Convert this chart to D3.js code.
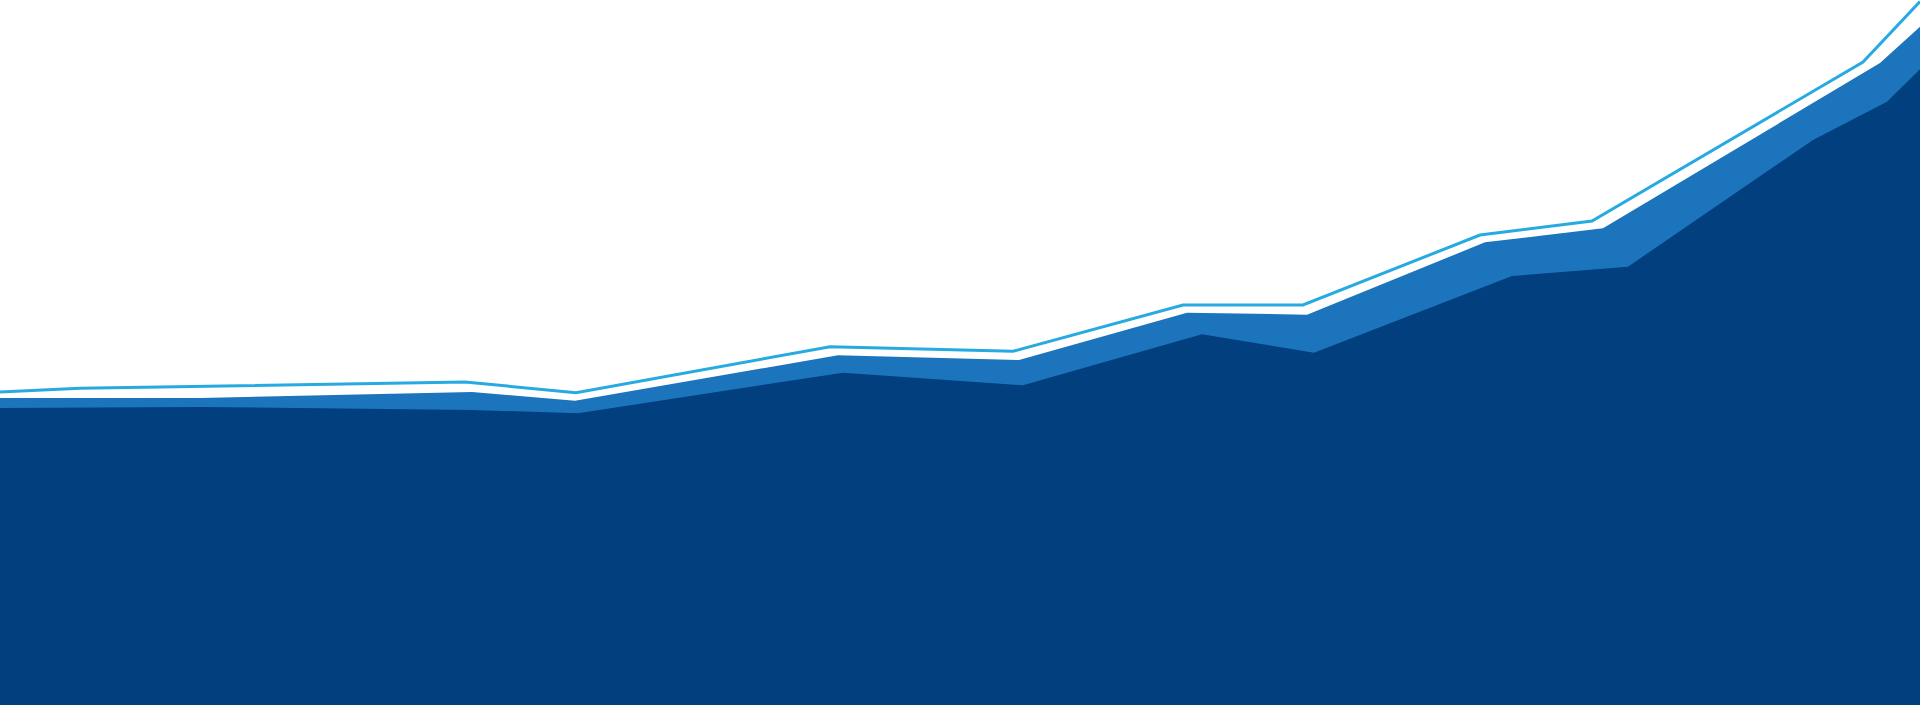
<!DOCTYPE html>
<html>
<head>
<meta charset="utf-8">
<script src="https://cdnjs.cloudflare.com/ajax/libs/d3/7.8.5/d3.min.js"></script>
<style>
	html, body { margin: 0; padding: 0; background: #fff; overflow: hidden; }
	svg { display: block; }
</style>
</head>
<body>
<script>
// positions along the strip and the height of each layer above the bottom edge
var lightX = [0, 80, 465, 576, 830, 1013, 1183, 1303, 1480, 1592, 1863, 1920];
var lightY = [313, 316.7, 323, 312.3, 358.3, 353.7, 400, 400, 470, 484, 643, 703.5];

var midX = [0, 200, 472, 575, 838, 1019, 1187, 1307, 1485, 1603, 1880, 1920];
var midY = [307, 307, 313, 304.3, 349.7, 345, 392.3, 390.3, 462.7, 476.7, 642, 678.3];

var darkX = [0, 200, 472, 578, 843, 1023, 1202, 1314, 1512, 1628, 1813, 1887, 1920];
var darkY = [297, 298, 295, 291.7, 332.3, 319.7, 370.7, 352.3, 429, 438.3, 565, 603.3, 635.7];

var width = 1920;
var height = 705;

var x = d3.scaleLinear().domain([0, 1920]).range([0, width]);
var y = d3.scaleLinear().domain([0, 705]).range([height, 0]);

var svg = d3.select("body").append("svg")
	.attr("width", width)
	.attr("height", height);

svg.append("rect")
	.attr("width", width)
	.attr("height", height)
	.attr("fill", "#ffffff");

function pairs(xs, ys) {
	return xs.map(function(d, i) { return [d, ys[i]]; });
}

var area = d3.area()
	.x(function(d) { return x(d[0]); })
	.y0(y(0))
	.y1(function(d) { return y(d[1]); });

var line = d3.line()
	.x(function(d) { return x(d[0]); })
	.y(function(d) { return y(d[1]); });

svg.append("path")
	.datum(pairs(midX, midY))
	.attr("d", area)
	.attr("fill", "#1c75bc");

svg.append("path")
	.datum(pairs(darkX, darkY))
	.attr("d", area)
	.attr("fill", "#013f7e");

svg.append("path")
	.datum(pairs(lightX, lightY))
	.attr("d", line)
	.attr("fill", "none")
	.attr("stroke", "#27aae1")
	.attr("stroke-width", 3);
</script>
</body>
</html>
